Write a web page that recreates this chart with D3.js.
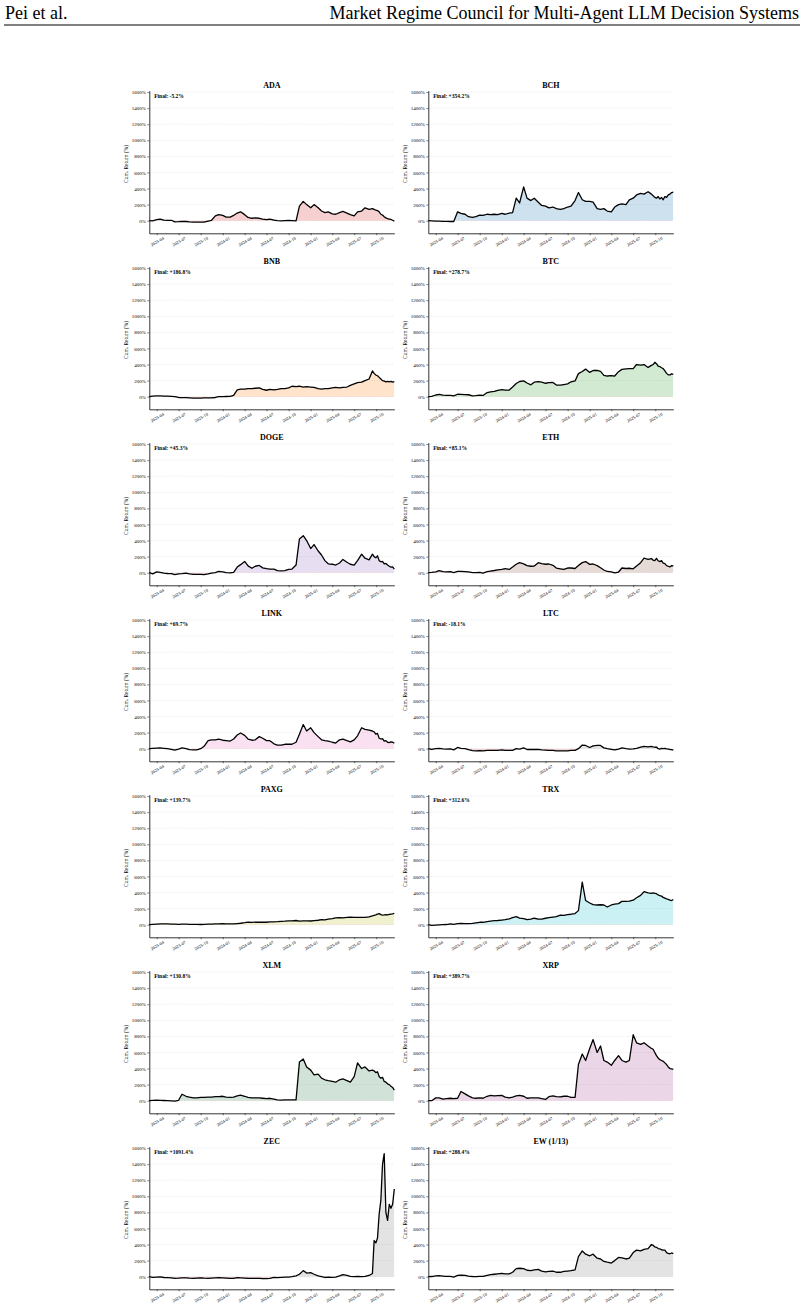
<!DOCTYPE html>
<html>
<head>
<meta charset="utf-8">
<script src="https://cdn.jsdelivr.net/npm/d3@7"></script>
<style>
body { margin: 0; background: #fff; }
</style>
</head>
<body>
<script>

// sample dates (half-monthly, weekly at the end)
var dates = ["2023-03-01","2023-03-15","2023-04-01","2023-04-15","2023-05-01","2023-05-15","2023-06-01","2023-06-15","2023-07-01","2023-07-15",
  "2023-08-01","2023-08-15","2023-09-01","2023-09-15","2023-10-01","2023-10-15","2023-11-01","2023-11-15","2023-12-01","2023-12-15",
  "2024-01-01","2024-01-15","2024-02-01","2024-02-15","2024-03-01","2024-03-15","2024-04-01","2024-04-15","2024-05-01","2024-05-15",
  "2024-06-01","2024-06-15","2024-07-01","2024-07-15","2024-08-01","2024-08-15","2024-09-01","2024-09-15","2024-10-01","2024-10-15",
  "2024-11-01","2024-11-15","2024-12-01","2024-12-15","2025-01-01","2025-01-15","2025-02-01","2025-02-15","2025-03-01","2025-03-15",
  "2025-04-01","2025-04-15","2025-05-01","2025-05-15","2025-06-01","2025-06-15","2025-07-01","2025-07-15","2025-08-01","2025-08-15",
  "2025-09-01","2025-09-15",
  "2025-09-22","2025-09-29","2025-10-06","2025-10-13","2025-10-20","2025-10-27","2025-11-03","2025-11-10","2025-11-17","2025-11-24",
  "2025-12-01","2025-12-08","2025-12-15"]

// cumulative return in %
var adaReturns = [0,-3,12,20,8,5,5,-15,-12,-8, -10,-15,-18,-18,-18,-18,-5,5,60,75, 65,45,45,65,95,110,75,40,30,35,
  30,20,12,18,8,0,-2,0,2,0, -2,180,240,200,160,200,160,120,100,110, 85,80,100,115,95,75,60,110,120,160, 140,150,
  140,130,125,110,80,70,50,35,25,20,15,5,-5]
var bchReturns = [0,-2,-5,-5,-8,-8,-10,-10,110,90, 80,50,40,50,70,65,80,75,80,75, 90,80,95,100,280,220,420,280,250,280,
  230,190,180,160,170,150,140,150,170,180, 250,350,260,240,240,230,150,140,150,120, 110,170,200,210,200,260,280,320,340,330, 360,330,
  310,290,280,300,270,290,260,300,290,320,330,350,354]
var bnbReturns = [0,8,10,10,8,8,5,0,-10,-12, -12,-15,-18,-18,-18,-16,-15,-15,-10,0, 0,2,5,15,85,95,95,100,100,105,
  110,90,80,90,85,90,100,100,110,130, 125,130,120,125,120,115,100,95,100,100, 110,115,110,115,120,140,160,175,180,200, 220,320,
  290,270,260,240,220,200,195,185,190,185,190,180,187]
var btcReturns = [0,4,21,29,19,15,15,9,30,29, 26,24,10,13,19,15,51,61,65,79, 87,81,83,121,164,189,197,170,147,181,
  188,181,167,176,177,145,144,151,160,185, 196,287,313,343,302,326,326,315,266,257, 262,257,311,340,347,349,350,400,392,400, 364,389,
  400,428,410,380,375,360,350,320,290,272,270,285,279]
var dogeReturns = [0,-15,10,5,-5,-10,-12,-25,-15,-12, -5,-15,-20,-22,-22,-25,-15,-5,0,15, 10,0,-3,5,70,100,140,85,55,80,
  90,60,50,45,45,25,22,25,40,45, 95,420,460,400,300,350,270,220,150,110, 105,95,120,165,130,105,95,150,230,180, 160,230,
  200,185,210,150,135,140,110,115,95,80,70,72,45]
var ethReturns = [0,3,10,25,12,10,12,2,15,15, 12,10,0,0,5,-5,12,20,27,35, 42,50,40,70,105,125,110,88,80,82,
  125,112,105,108,92,58,48,40,58,58, 52,88,125,138,103,108,88,62,33,15, 10,-3,8,58,52,55,48,82,125,180, 165,176,
  155,150,178,148,138,150,118,112,88,80,72,88,85]
var linkReturns = [0,5,8,10,5,0,-8,-18,-5,10, 0,-12,-15,-15,0,30,100,110,110,120, 105,100,95,120,170,195,165,120,105,110,
  150,130,100,100,60,45,45,55,55,55, 80,180,300,220,260,200,150,110,100,95, 80,70,110,120,100,85,110,160,260,240, 230,220,
  210,180,190,130,120,125,95,100,80,75,85,80,70]
var ltcReturns = [0,-10,0,5,-3,-5,-3,-15,15,5, 0,-12,-25,-28,-25,-28,-22,-22,-22,-20, -15,-22,-22,-20,0,-5,10,-10,-10,-10,
  -8,-15,-18,-20,-22,-28,-28,-27,-27,-22, -22,0,45,40,15,35,40,40,10,0, -8,-15,-5,10,0,-5,-3,5,20,30, 22,28,
  22,18,20,0,-5,5,0,5,-3,-5,-10,-12,-18]
var paxgReturns = [0,5,8,10,10,10,8,7,5,7, 6,4,5,4,2,5,7,7,10,10, 12,11,11,10,14,18,25,32,28,32,
  30,30,30,35,36,37,40,43,48,48, 52,44,47,47,46,50,55,62,60,68, 75,85,88,85,90,95,90,90,90,90, 98,110,
  115,122,130,138,125,120,122,125,122,128,132,135,140]
var trxReturns = [0,-8,-5,-3,0,2,10,3,12,16, 14,14,15,22,30,30,38,45,50,52, 57,62,72,88,100,82,75,62,68,80,
  68,70,80,88,95,100,120,115,125,130, 138,175,530,300,270,250,245,248,245,220, 245,255,262,290,290,292,305,335,365,410, 395,390,
  395,390,385,370,360,355,340,330,320,315,305,300,313]
var xlmReturns = [0,5,8,5,2,0,-2,-5,5,80, 55,45,35,35,40,40,45,45,50,50, 55,45,40,45,60,70,55,40,35,35,
  35,30,25,30,20,10,8,10,10,10, 10,480,520,420,380,320,330,280,260,250, 240,230,260,270,250,230,300,470,400,420, 370,380,
  370,350,360,300,280,290,240,230,210,200,180,165,131]
var xrpReturns = [0,0,35,35,20,25,30,25,30,115, 85,60,35,30,35,30,55,65,60,62, 65,45,35,45,60,65,55,30,35,35,
  35,25,15,50,60,50,48,55,55,40, 40,450,580,500,650,760,600,680,500,480, 440,500,560,500,480,500,820,720,700,720, 680,650,
  640,600,560,530,510,500,490,470,450,420,400,395,390]
var zecReturns = [0,-8,-5,-3,-10,-12,-15,-20,-18,-15, -15,-18,-20,-18,-15,-18,-20,-18,-15,-12, -15,-18,-22,-20,-12,-15,-18,-22,-22,-20,
  -20,-25,-25,-20,-10,-12,-8,-5,-5,0, 10,30,75,45,50,30,10,0,-10,-5, -8,-5,10,25,15,5,0,5,0,5, 15,40,
  450,420,480,780,950,1400,1530,800,700,900,850,900,1091]
var ewReturns = [0,2,10,12,8,5,3,-5,15,20, 15,8,2,0,5,3,15,25,30,35, 42,35,35,55,100,105,100,80,75,85,
  90,70,60,65,70,55,55,65,70,75, 85,250,320,280,260,280,230,220,190,180, 170,200,240,235,220,230,300,330,320,340, 350,400,
  390,370,365,350,345,335,330,330,300,290,285,295,288]

var coins = ["ADA","BCH","BNB","BTC","DOGE","ETH","LINK","LTC","PAXG","TRX","XLM","XRP","ZEC","EW (1/13)"]
var finalLabels = ["Final: -5.2%","Final: +354.2%","Final: +186.8%","Final: +278.7%","Final: +45.3%","Final: +85.1%","Final: +69.7%",
  "Final: -18.1%","Final: +139.7%","Final: +312.6%","Final: +130.8%","Final: +389.7%","Final: +1091.4%","Final: +288.4%"]
var fillColors = ["#d62728","#1f77b4","#ff7f0e","#2ca02c","#9467bd","#8c564b","#e377c2","#7f7f7f","#bcbd22","#17becf",
  "#2f7f4f","#a0468c","#7f7f7f","#7f7f7f"]
var returnsByCoin = [adaReturns,bchReturns,bnbReturns,btcReturns,dogeReturns,ethReturns,linkReturns,ltcReturns,
  paxgReturns,trxReturns,xlmReturns,xrpReturns,zecReturns,ewReturns]

var yTicks = [0,200,400,600,800,1000,1200,1400,1600]
var xTicks = ["2023-04","2023-07","2023-10","2024-01","2024-04","2024-07","2024-10","2025-01","2025-04","2025-07","2025-10"]

var serif = "'Liberation Serif', 'Times New Roman', Times, serif"

var parseDay = d3.timeParse("%Y-%m-%d")
var parseMonth = d3.timeParse("%Y-%m")

var svg = d3.select("body").append("svg")
.attr("width",804)
.attr("height",1308)
.attr("font-family",serif)

// page header
svg.append("text")
.attr("x",5)
.attr("y",19)
.attr("font-family",serif)
.attr("font-size","18px")
.text("Pei et al.")

svg.append("text")
.attr("x",799)
.attr("y",19)
.attr("font-family",serif)
.attr("font-size","18px")
.attr("text-anchor","end")
.text("Market Regime Council for Multi-Agent LLM Decision Systems")

svg.append("line")
.attr("x1",4).attr("x2",800)
.attr("y1",25).attr("y2",25)
.attr("stroke","#000")
.attr("stroke-width",1)

var colX = [149.3, 428.3]
var plotW = 245
var plotH = 142.6
var rowTop = 90.7
var rowStep = 176

var x = d3.scaleTime()
.domain([parseDay(dates[0]), parseDay(dates[dates.length-1])])
.range([0, plotW])

var y = d3.scaleLinear()
.domain([-157, 1617])
.range([plotH, 0])

function drawPanel(i)
{
  var col = i % 2
  var row = Math.floor(i / 2)
  var vals = returnsByCoin[i]
  var pts = dates.map(function(d, k) { return {date: parseDay(d), v: vals[k]} })

  var g = svg.append("g")
  .attr("transform","translate(" + colX[col] + "," + (rowTop + row*rowStep) + ")")

  // faint horizontal grid
  g.selectAll("line.grid")
  .data(yTicks)
  .enter()
  .append("line")
  .attr("class","grid")
  .attr("x1",0).attr("x2",plotW)
  .attr("y1",function(d){ return y(d) })
  .attr("y2",function(d){ return y(d) })
  .attr("stroke","#c8c8c8")
  .attr("stroke-width",0.4)
  .attr("stroke-dasharray","1,1.5")

  var defs = g.append("defs")
  defs.append("clipPath").attr("id","pos" + i)
  .append("rect").attr("x",0).attr("y",0).attr("width",plotW).attr("height",y(0))
  defs.append("clipPath").attr("id","neg" + i)
  .append("rect").attr("x",0).attr("y",y(0)).attr("width",plotW).attr("height",plotH - y(0))

  var area = d3.area()
  .x(function(d){ return x(d.date) })
  .y0(y(0))
  .y1(function(d){ return y(d.v) })

  g.append("path")
  .datum(pts)
  .attr("d",area)
  .attr("fill",fillColors[i])
  .attr("fill-opacity",0.22)
  .attr("clip-path","url(#pos" + i + ")")

  g.append("path")
  .datum(pts)
  .attr("d",area)
  .attr("fill","#d62728")
  .attr("fill-opacity",0.2)
  .attr("clip-path","url(#neg" + i + ")")

  var line = d3.line()
  .x(function(d){ return x(d.date) })
  .y(function(d){ return y(d.v) })

  g.append("path")
  .datum(pts)
  .attr("d",line)
  .attr("fill","none")
  .attr("stroke","#000")
  .attr("stroke-width",1.3)
  .attr("stroke-linejoin","round")

  // axes
  var yAxis = g.append("g")
  .call(d3.axisLeft(y).tickValues(yTicks).tickFormat(function(d){ return d + "%" }).tickSizeInner(2).tickSizeOuter(0).tickPadding(1.5))
  yAxis.selectAll("text").attr("font-size","5px").attr("font-family",serif)
  yAxis.selectAll("line").attr("stroke-width",0.5)
  yAxis.select(".domain").attr("stroke-width",0.8)

  var xAxis = g.append("g")
  .attr("transform","translate(0," + plotH + ")")
  .call(d3.axisBottom(x).tickValues(xTicks.map(parseMonth)).tickFormat(d3.timeFormat("%Y-%m")).tickSizeInner(2).tickSizeOuter(0))
  xAxis.selectAll("line").attr("stroke-width",0.5)
  xAxis.select(".domain").attr("stroke-width",0.8)
  xAxis.selectAll("text")
  .attr("font-size","4.4px")
  .attr("font-family",serif)
  .attr("y",0)
  .attr("dy",0)
  .attr("text-anchor","middle")
  .attr("dominant-baseline","central")
  .attr("transform","translate(0,8.3) rotate(-30)")

  // labels
  g.append("text")
  .attr("x",plotW/2)
  .attr("y",-3.2)
  .attr("text-anchor","middle")
  .attr("font-family",serif)
  .attr("font-size","8px")
  .attr("font-weight","bold")
  .text(coins[i])

  g.append("text")
  .attr("x",plotW*0.02)
  .attr("y",7.8)
  .attr("font-family",serif)
  .attr("font-size","5.5px")
  .attr("font-weight","bold")
  .text(finalLabels[i])

  g.append("text")
  .attr("transform","translate(-21.8," + (plotH/2 + 2) + ") rotate(-90)")
  .attr("text-anchor","middle")
  .attr("font-family",serif)
  .attr("font-size","5.5px")
  .text("Cum. Return (%)")
}

for(var i = 0; i < coins.length; i++)
{
  drawPanel(i)
}

</script>
</body>
</html>
